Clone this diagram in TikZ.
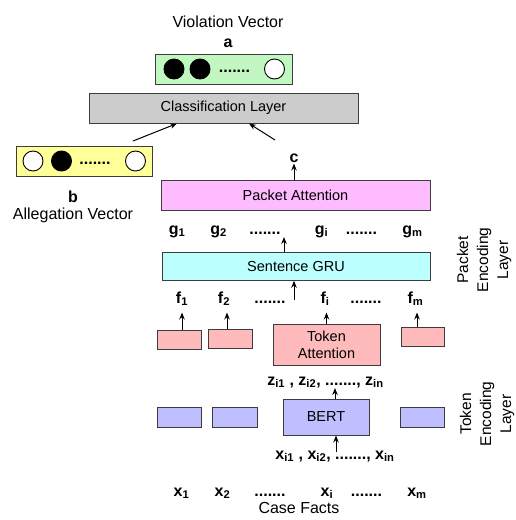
\documentclass[tikz,border=0pt]{standalone}
\usepackage{fontspec}
\setmainfont{Liberation Sans}
\usetikzlibrary{arrows.meta}
\definecolor{edge}{RGB}{60,60,60}
\definecolor{vgreen}{RGB}{194,247,194}
\definecolor{cgray}{RGB}{204,204,204}
\definecolor{ayellow}{RGB}{255,255,153}
\definecolor{pmagenta}{RGB}{255,187,255}
\definecolor{gcyan}{RGB}{187,255,255}
\definecolor{tpink}{RGB}{255,187,187}
\definecolor{tblue}{RGB}{191,191,255}
\newcommand{\sv}[2]{#1\textsubscript{#2}}
\begin{document}
\begin{tikzpicture}[>={Stealth[length=7pt,width=5.5pt]},x=1pt,y=-1pt,
	box/.style={draw=edge,line width=1pt,inner sep=0pt,font=\fontsize{14.5}{17}\selectfont},
	lbl/.style={font=\fontsize{16}{18}\selectfont\bfseries,inner sep=0pt,anchor=base},
	ttl/.style={font=\fontsize{16}{18}\selectfont,inner sep=0pt,anchor=base},
	side/.style={font=\fontsize{15.5}{20}\selectfont,align=center,rotate=90},
	ball/.style={circle,draw,line width=0.9pt,minimum size=20pt,inner sep=0pt},
	arr/.style={->,line width=1pt}]
	\useasboundingbox (0,0) rectangle (515,520);
	% violation vector
	\node[ttl] (vtitle) at (228,27) {Violation Vector};
	\node[lbl] (a) at (228,47) {a};
	\node[box,fill=vgreen,minimum width=137pt,minimum height=30pt] (vvec) at (223.5,69) {};
	\node[ball,fill=black] (v1) at (174,69) {};
	\node[ball,fill=black] (v2) at (200,69) {};
	\node[lbl] (vdots) at (234.5,72) {.......};
	\node[ball,fill=white] (vm) at (274.5,69) {};
	% classification
	\node[box,fill=cgray,minimum width=269pt,minimum height=30pt] (cls) at (223.5,108) {Classification Layer};
	% allegation vector
	\node[box,fill=ayellow,minimum width=136pt,minimum height=30pt] (avec) at (84,161) {};
	\node[ball,fill=white] (b1) at (33,161) {};
	\node[ball,fill=black] (b2) at (61.5,161) {};
	\node[lbl] (bdots) at (95,164) {.......};
	\node[ball,fill=white] (bm) at (135.5,161) {};
	\node[lbl] (b) at (73,202) {b};
	\node[ttl] (btitle) at (73,219) {Allegation Vector};
	\coordinate (bout) at (133,141);
	\coordinate (bin) at (177,123);
	\coordinate (cout) at (275,140);
	\coordinate (cin) at (249,123);
	\draw[arr] (bout) -- (cls.south -| bin);
	\draw[arr] (cout) -- (cls.south -| cin);
	% packet encoding layer
	\node[lbl] (c) at (294,162) {c};
	\node[box,fill=pmagenta,minimum width=269pt,minimum height=30pt] (patt) at (295.5,195) {Packet Attention};
	\draw[arr] (patt.north -| c) -- ++(0,-16);
	\node[lbl] (g1) at (177,234) {\sv{g}{1}};
	\node[lbl] (g2) at (218.5,234) {\sv{g}{2}};
	\node[lbl] (gd1) at (265,234) {.......};
	\node[lbl] (gi) at (321.5,234) {\sv{g}{i}};
	\node[lbl] (gd2) at (361.5,234) {.......};
	\node[lbl] (gm) at (412.5,234) {\sv{g}{m}};
	\node[box,fill=gcyan,minimum width=268pt,minimum height=27.5pt] (gru) at (296,266.5) {Sentence GRU};
	\coordinate (gtip) at (284,237);
	\draw[arr] (gru.north -| gtip) -- (gtip);
	\node[lbl] (f1) at (182,303) {\sv{f}{1}};
	\node[lbl] (f2) at (224,303) {\sv{f}{2}};
	\node[lbl] (fd1) at (270,303) {.......};
	\node[lbl] (fi) at (325,303) {\sv{f}{i}};
	\node[lbl] (fd2) at (366,303) {.......};
	\node[lbl] (fm) at (415.5,303) {\sv{f}{m}};
	\coordinate (ftail) at (294,300);
	\draw[arr] (ftail) -- (gru.south -| ftail);
	\node[box,fill=tpink,minimum width=44pt,minimum height=19pt] (p1) at (179,339.5) {};
	\node[box,fill=tpink,minimum width=44pt,minimum height=19pt] (p2) at (230,338.5) {};
	\node[box,fill=tpink,minimum width=107pt,minimum height=41pt,align=center] (tatt) at (326.5,344.5) {Token\\Attention};
	\node[box,fill=tpink,minimum width=43pt,minimum height=19pt] (p4) at (422.5,336.5) {};
	\draw[arr] (p1.north -| f1) -- ++(0,-17);
	\draw[arr] (p2.north -| 227,0) -- ++(0,-16);
	\draw[arr] (tatt.north) -- ++(0,-11);
	\draw[arr] (p4.north -| 417,0) -- ++(0,-14);
	\node[side] (penc) at (484,260) {Packet\\Encoding\\Layer};
	% token encoding layer
	\node[lbl] (z) at (325.5,385) {\sv{z}{i1} , \sv{z}{i2}, ......., \sv{z}{in}};
	\node[box,fill=tblue,minimum width=86pt,minimum height=36pt] (bert) at (326,417) {BERT};
	\coordinate (ztip) at (335,388);
	\draw[arr] (bert.north -| ztip) -- (ztip);
	\node[box,fill=tblue,minimum width=44pt,minimum height=20pt] (t1) at (179,417) {};
	\node[box,fill=tblue,minimum width=45pt,minimum height=20pt] (t2) at (234.5,417) {};
	\node[box,fill=tblue,minimum width=44pt,minimum height=20pt] (t4) at (422,417) {};
	\node[lbl] (xi) at (335,459) {\sv{x}{i1} , \sv{x}{i2}, ......., \sv{x}{in}};
	\coordinate (xtail) at (336,452);
	\draw[arr] (xtail) -- (bert.south -| xtail);
	\node[side] (tenc) at (487,414) {Token\\Encoding\\Layer};
	% case facts
	\node[lbl] (x1) at (181.5,496) {\sv{x}{1}};
	\node[lbl] (x2) at (222.5,496) {\sv{x}{2}};
	\node[lbl] (xd1) at (270,496) {.......};
	\node[lbl] (xx) at (327,496) {\sv{x}{i}};
	\node[lbl] (xd2) at (366.5,496) {.......};
	\node[lbl] (xm) at (417,496) {\sv{x}{m}};
	\node[ttl] (facts) at (299,513) {Case Facts};
\end{tikzpicture}
\end{document}
